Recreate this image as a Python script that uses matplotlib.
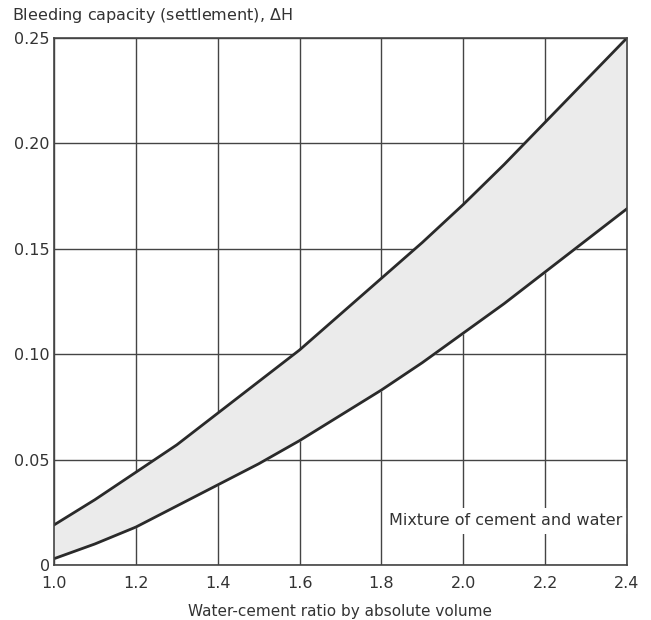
import matplotlib
matplotlib.use("Agg")
import matplotlib.pyplot as plt

# ----------------------------
# DATA
# ----------------------------
wc_ratio = [1.0, 1.1, 1.2, 1.3, 1.4, 1.5, 1.6, 1.7, 1.8, 1.9, 2.0, 2.1, 2.2, 2.3, 2.4]
upper = [0.019, 0.031, 0.044, 0.057, 0.072, 0.087, 0.102, 0.119, 0.136, 0.153,
         0.171, 0.190, 0.210, 0.230, 0.250]
lower = [0.003, 0.010, 0.018, 0.028, 0.038, 0.048, 0.059, 0.071, 0.083, 0.096,
         0.110, 0.124, 0.139, 0.154, 0.169]

x_ticks = [1.0, 1.2, 1.4, 1.6, 1.8, 2.0, 2.2, 2.4]
x_labels = ["1.0", "1.2", "1.4", "1.6", "1.8", "2.0", "2.2", "2.4"]
y_ticks = [0, 0.05, 0.10, 0.15, 0.20, 0.25]
y_labels = ["0", "0.05", "0.10", "0.15", "0.20", "0.25"]

plt.rcParams["font.family"] = ["DejaVu Sans"]

fig = plt.figure(figsize=(6.51, 6.20), dpi=100)
ax = fig.add_axes([0.0830, 0.0887, 0.8800, 0.85])

# shaded band + the two bounding curves
ax.fill_between(wc_ratio, lower, upper, color="#ebebeb", zorder=1)
ax.plot(wc_ratio, upper, color="#2a2a2a", lw=2.0, zorder=3)
ax.plot(wc_ratio, lower, color="#2a2a2a", lw=2.0, zorder=3)

ax.set_xlim(1.0, 2.4)
ax.set_ylim(0, 0.25)
ax.set_xticks(x_ticks)
ax.set_xticklabels(x_labels, fontsize=11.5, color="#333333")
ax.set_yticks(y_ticks)
ax.set_yticklabels(y_labels, fontsize=11.5, color="#333333")
ax.tick_params(axis="y", length=0, pad=3)
ax.tick_params(axis="x", length=0, pad=8)

ax.grid(True, color="#444444", lw=1.0, zorder=0)
ax.set_axisbelow(True)
for s in ax.spines.values():
    s.set_color("#444444")
    s.set_linewidth(1.2)
    s.set_zorder(5)  # keep frame above the label box

ax.set_xlabel("Water-cement ratio by absolute volume", fontsize=11,
              color="#333333", labelpad=9)
fig.text(0.018, 0.975, "Bleeding capacity (settlement), $\\Delta$H",
         fontsize=11.5, color="#333333", ha="left", va="center")

ax.text(2.39, 0.021, "Mixture of cement and water", fontsize=11.5,
        color="#333333", ha="right", va="center", zorder=4,
        bbox=dict(facecolor="white", edgecolor="none", pad=4))

plt.savefig("out.png", dpi=100)
plt.close()
